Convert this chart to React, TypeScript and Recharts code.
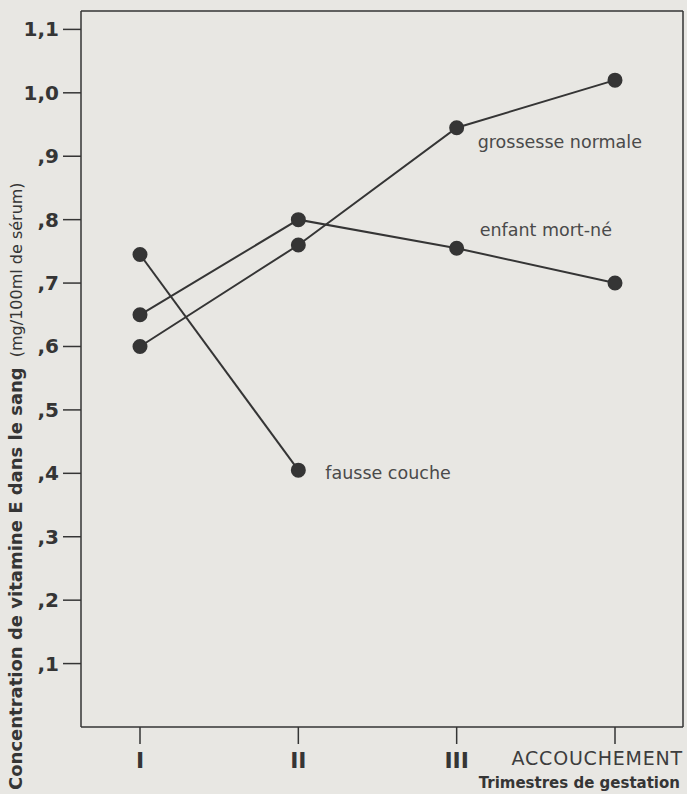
import React from "react";
import {
  LineChart,
  Line,
  XAxis,
  YAxis,
  LabelList,
} from "recharts";

const trimestres = ["I", "II", "III", "ACCOUCHEMENT"];
const grossesseNormale = [0.6, 0.76, 0.945, 1.02];
const enfantMortNe = [0.65, 0.8, 0.755, 0.7];
const fausseCouche = [0.745, 0.405, null, null];
const yTicks = [0.1, 0.2, 0.3, 0.4, 0.5, 0.6, 0.7, 0.8, 0.9, 1.0, 1.1];
const yTickLabels = [",1", ",2", ",3", ",4", ",5", ",6", ",7", ",8", ",9", "1,0", "1,1"];

const data = trimestres.map((t, i) => ({
  t,
  normale: grossesseNormale[i],
  mortNe: enfantMortNe[i],
  fausse: fausseCouche[i],
}));

const BG = "#e8e7e3";
const INK = "#353535";
const FONT = "'DejaVu Sans', sans-serif";
const Y_MAX = 1.129;

const seriesLabel = (text: string, at: number, dx: number, dy: number) => (p: any) => {
  if (p.index !== at) return null;
  return (
    <text x={p.x + dx} y={p.y + dy} fill="#4a4a4a" fontSize={17.5} fontFamily={FONT}>
      {text}
    </text>
  );
};

const YTick = (p: any) => {
  const i = yTicks.indexOf(p.payload.value);
  return (
    <text x={p.x} y={p.y + 7} textAnchor="end" fill={INK} fontSize={20} fontWeight="bold" fontFamily={FONT}>
      {yTickLabels[i]}
    </text>
  );
};

const XTick = (p: any) => {
  const v = p.payload.value;
  if (v === "ACCOUCHEMENT") {
    return (
      <text x={p.x + 68} y={765} textAnchor="end" fill="#3d3d3d" fontSize={19} letterSpacing={0.8} fontFamily={FONT}>
        {v}
      </text>
    );
  }
  return (
    <text x={p.x} y={768} textAnchor="middle" fill={INK} fontSize={22} fontWeight="bold" fontFamily={FONT}>
      {v}
    </text>
  );
};

export default function App() {
  return (
    <div style={{ position: "absolute", left: 0, top: 0, width: 687, height: 794, background: BG }}>
      <LineChart width={687} height={794} data={data} margin={{ top: 10, right: 3, left: 0, bottom: 0 }}>
        <XAxis
          dataKey="t"
          height={67}
          padding={{ left: 59, right: 68 }}
          stroke={INK}
          strokeWidth={1.5}
          tickSize={17}
          tick={<XTick />}
          label={{
            content: () => (
              <text x={680} y={788} textAnchor="end" fill={INK} fontSize={15} fontWeight="bold" fontFamily={FONT}>
                Trimestres de gestation
              </text>
            ),
          }}
        />
        <XAxis
          xAxisId="top"
          orientation="top"
          dataKey="t"
          height={1}
          padding={{ left: 59, right: 68 }}
          tick={false}
          tickLine={false}
          stroke={INK}
          strokeWidth={1.5}
        />
        <YAxis
          domain={[0, Y_MAX]}
          ticks={yTicks}
          width={81}
          stroke={INK}
          strokeWidth={1.5}
          tickSize={18}
          tickMargin={4}
          tick={<YTick />}
          label={{
            content: () => (
              <text x={22} y={790} transform="rotate(-90 22 790)" fill={INK} fontFamily={FONT}>
                <tspan fontSize={18} fontWeight="bold">Concentration de vitamine E dans le sang</tspan>
                <tspan fontSize={16} dx={10}>(mg/100ml de sérum)</tspan>
              </text>
            ),
          }}
        />
        <YAxis
          yAxisId="right"
          orientation="right"
          domain={[0, Y_MAX]}
          width={1}
          tick={false}
          tickLine={false}
          stroke={INK}
          strokeWidth={1.5}
        />
        <Line
          dataKey="normale"
          yAxisId="right"
          stroke={INK}
          strokeWidth={2}
          dot={{ r: 6.5, fill: INK, stroke: INK }}
          isAnimationActive={false}
        >
          <LabelList content={seriesLabel("grossesse normale", 2, 21, 20)} />
        </Line>
        <Line
          dataKey="mortNe"
          xAxisId="top"
          stroke={INK}
          strokeWidth={2}
          dot={{ r: 6.5, fill: INK, stroke: INK }}
          isAnimationActive={false}
        >
          <LabelList content={seriesLabel("enfant mort-né", 2, 23, -12)} />
        </Line>
        <Line
          dataKey="fausse"
          stroke={INK}
          strokeWidth={2}
          dot={{ r: 6.5, fill: INK, stroke: INK }}
          isAnimationActive={false}
        >
          <LabelList content={seriesLabel("fausse couche", 1, 27, 9)} />
        </Line>
      </LineChart>
    </div>
  );
}
